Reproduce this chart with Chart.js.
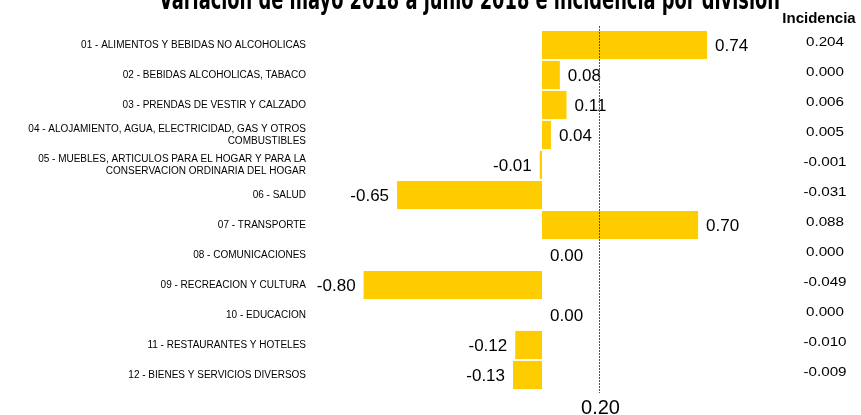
<!DOCTYPE html>
<html>
<head>
<meta charset="utf-8">
<script src="https://cdn.jsdelivr.net/npm/chart.js@4/dist/chart.umd.min.js"></script>
<style>
html,body{margin:0;padding:0;background:#fff;}
#c{display:block;}
</style>
</head>
<body>
<canvas id="c" width="861" height="415" style="width:861px;height:415px"></canvas>
<script>
const titleText = "Variacion de mayo 2018 a junio 2018 e incidencia por division";
const incidenceHeader = "Incidencia";
const categories = [
  "01 - ALIMENTOS Y BEBIDAS NO ALCOHOLICAS",
  "02 - BEBIDAS ALCOHOLICAS, TABACO",
  "03 - PRENDAS DE VESTIR Y CALZADO",
  ["04 - ALOJAMIENTO, AGUA, ELECTRICIDAD, GAS Y OTROS", "COMBUSTIBLES"],
  ["05 - MUEBLES, ARTICULOS PARA EL HOGAR Y PARA LA", "CONSERVACION ORDINARIA DEL HOGAR"],
  "06 - SALUD",
  "07 - TRANSPORTE",
  "08 - COMUNICACIONES",
  "09 - RECREACION Y CULTURA",
  "10 - EDUCACION",
  "11 - RESTAURANTES Y HOTELES",
  "12 - BIENES Y SERVICIOS DIVERSOS"
];
const variation = [0.74, 0.08, 0.11, 0.04, -0.01, -0.65, 0.70, 0.00, -0.80, 0.00, -0.12, -0.13];
const incidence = ["0.204", "0.000", "0.006", "0.005", "-0.001", "-0.031", "0.088", "0.000", "-0.049", "0.000", "-0.010", "-0.009"];
const referenceValue = 0.20;
const referenceLabel = "0.20";

const overlayPlugin = {
  id: 'overlay',
  afterDatasetsDraw(chart) {
    const ctx = chart.ctx;
    const ca = chart.chartArea;
    const meta = chart.getDatasetMeta(0);
    const yScale = chart.scales.y;
    ctx.save();
    // value labels
    ctx.font = '17px "Liberation Sans", Arial, sans-serif';
    ctx.fillStyle = '#000';
    ctx.textBaseline = 'middle';
    meta.data.forEach((bar, i) => {
      const v = variation[i];
      const txt = v.toFixed(2);
      if (v < 0) {
        ctx.textAlign = 'right';
        ctx.fillText(txt, bar.x - 8, bar.y + 1);
      } else {
        ctx.textAlign = 'left';
        ctx.fillText(txt, bar.x + 8, bar.y + 1);
      }
    });
    // incidence column (slightly widened Arial-like text)
    ctx.font = '13px "Liberation Sans", Arial, sans-serif';
    ctx.textAlign = 'center';
    incidence.forEach((t, i) => {
      const y = yScale.getPixelForValue(i);
      ctx.save();
      ctx.translate(825, y - 3);
      ctx.scale(1.17, 1);
      ctx.fillText(t, 0, 0);
      ctx.restore();
    });
    ctx.font = 'bold 15px "Liberation Sans", Arial, sans-serif';
    ctx.textBaseline = 'alphabetic';
    ctx.fillText(incidenceHeader, 819, 23);
    // reference line (secondary axis)
    const rx = Math.round(chart.scales.x2.getPixelForValue(referenceValue)) + 0.5;
    ctx.strokeStyle = '#008c00';
    ctx.lineWidth = 1;
    ctx.setLineDash([2, 1]);
    ctx.beginPath();
    ctx.moveTo(rx, ca.top - 4);
    ctx.lineTo(rx, ca.bottom + 3);
    ctx.stroke();
    ctx.setLineDash([]);
    ctx.font = '20px "Liberation Sans", Arial, sans-serif';
    ctx.fillStyle = '#000';
    ctx.textAlign = 'center';
    ctx.fillText(referenceLabel, rx + 1, ca.bottom + 24);
    // title (cut at top)
    ctx.font = 'bold 28px "Liberation Sans Narrow", "DejaVu Sans Condensed", sans-serif';
    ctx.textAlign = 'left';
    const w = ctx.measureText(titleText).width;
    const targetW = 621;
    ctx.translate(159, 9);
    ctx.scale(targetW / w, 1);
    ctx.fillText(titleText, 0, 0);
    ctx.restore();
  }
};

new Chart(document.getElementById('c'), {
  type: 'bar',
  data: {
    labels: categories,
    datasets: [{
      data: variation,
      backgroundColor: '#FFCC00',
      borderWidth: 0,
      barPercentage: 0.94,
      categoryPercentage: 1.0
    }]
  },
  options: {
    indexAxis: 'y',
    responsive: false,
    animation: false,
    devicePixelRatio: 1,
    layout: { padding: { top: 30, bottom: 25, right: 96, left: 0 } },
    plugins: { legend: { display: false }, tooltip: { enabled: false }, title: { display: false } },
    scales: {
      x: { min: -1, max: 1, display: false },
      x2: { type: 'linear', min: -0.55, max: 0.645, display: false, position: 'bottom' },
      y: {
        grid: { display: false, drawTicks: false },
        border: { display: false },
        ticks: {
          font: { family: '"Liberation Sans", Arial, sans-serif', size: 10 },
          color: '#000',
          padding: 13,
          autoSkip: false
        },
        afterFit(scale) { scale.width = 319; }
      }
    }
  },
  plugins: [overlayPlugin]
});
</script>
</body>
</html>
